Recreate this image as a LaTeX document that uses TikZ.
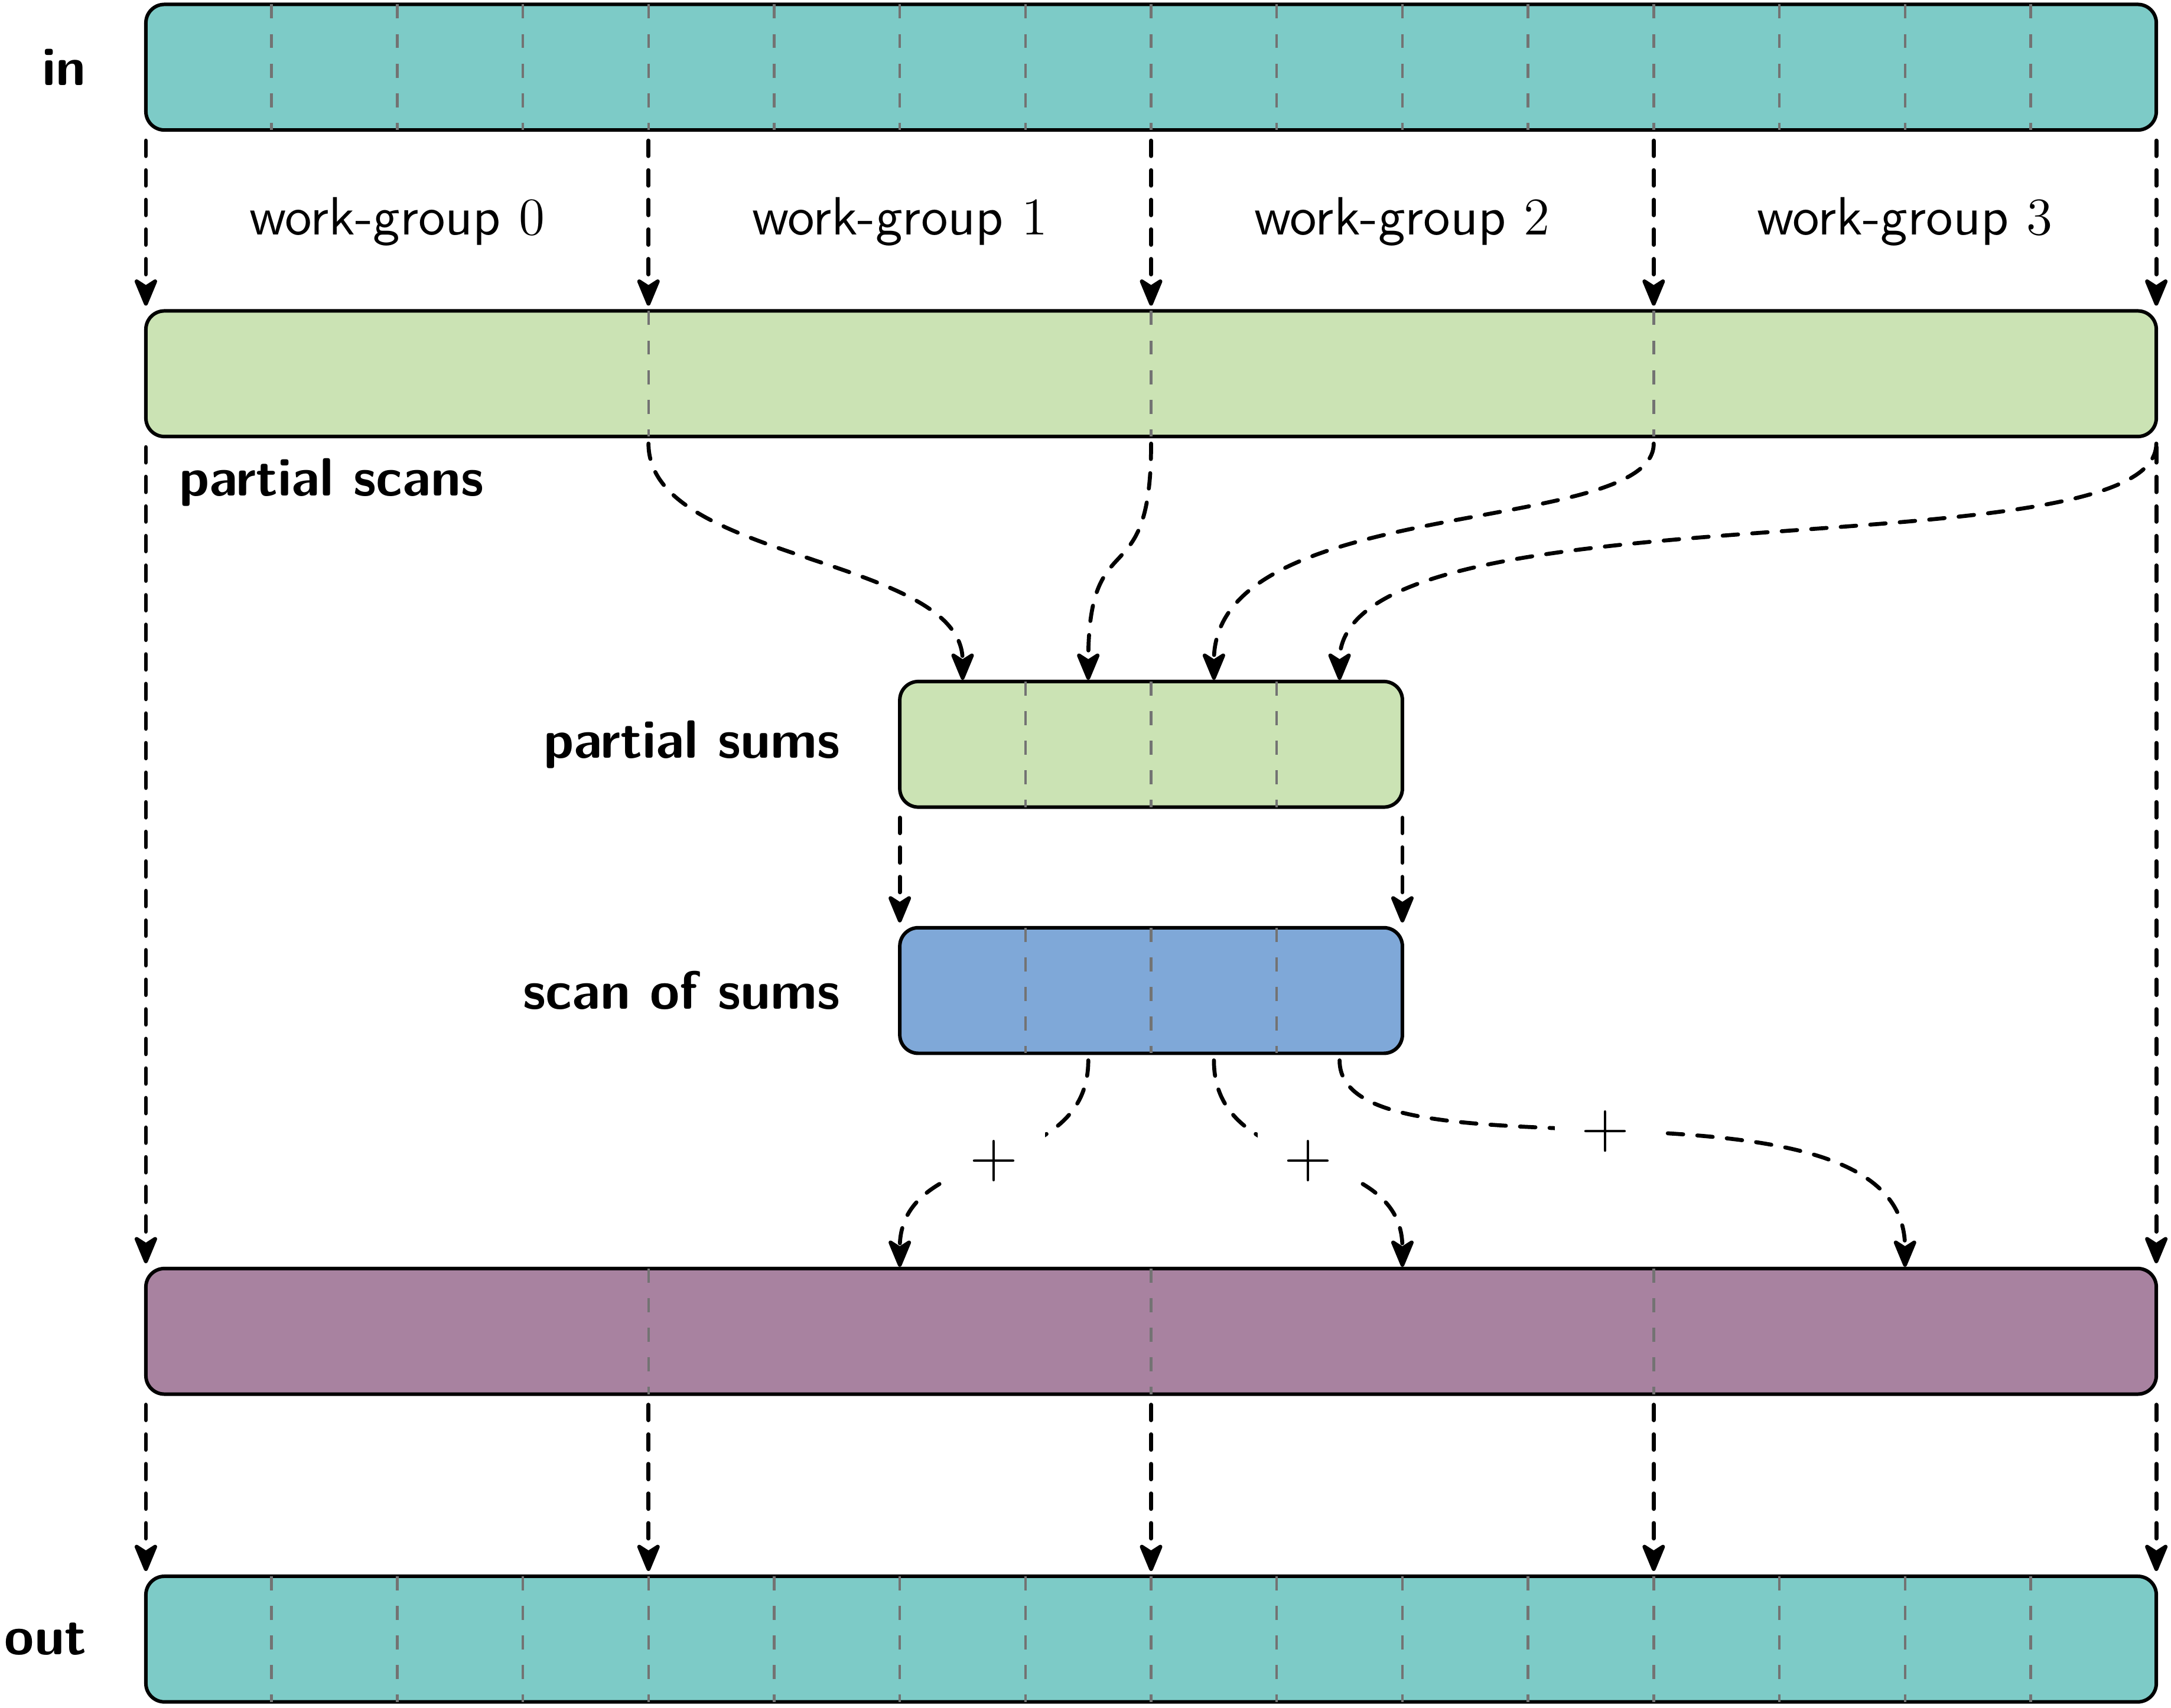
\documentclass[tikz,border=0pt]{standalone}
\usepackage{fontspec}
\setsansfont{lmsans10-regular.otf}[BoldFont=lmsans10-bold.otf]
\usepackage{tikz}
\usetikzlibrary{positioning, arrows.meta}
\definecolor{incolor}{RGB}{125,203,199}
\definecolor{scancolor}{RGB}{203,227,180}
\definecolor{sumcolor}{RGB}{127,168,216}
\definecolor{addcolor}{RGB}{168,130,160}
\tikzset{
	every node/.style={
		font=\sffamily\fontsize{12.2}{14}\selectfont
	},
	array/.style={
		rectangle,
		draw,
		thick,
		rounded corners=4.2pt,
		minimum height=1cm,
		inner sep=0,
		outer sep=0
	},
	arrname/.style={
		font=\sffamily\bfseries\fontsize{12.2}{14}\selectfont
	},
	cellsep/.style={
		black!55,
		semithick,
		dash pattern=on 3.2pt off 3.5pt
	},
	flow/.style={
		line width=0.9pt,
		line cap=round,
		dash pattern=on 3.5pt off 3.2pt,
		-{Stealth[round, length=7.3pt, width=6pt, inset=1.9pt]},
		shorten <=2.4pt,
		shorten >=1.2pt
	},
	curveflow/.style={
		flow,
		shorten <=1.6pt,
		shorten >=0.4pt
	},
	plus/.style={
		fill=white,
		inner sep=6pt,
		font=\fontsize{14}{17}\selectfont
	},
}

\begin{document}
\begin{tikzpicture}
	\useasboundingbox (-1.161,0.035) rectangle (16.117,-13.56);

	\node (in) [array, fill=incolor, minimum width=16cm] at (8,-0.5) {};
	\node (scans) [array, fill=scancolor, minimum width=16cm] at (8,-2.94) {};
	\node (sums) [array, fill=scancolor, minimum width=4cm] at (8,-5.89) {};
	\node (sumscan) [array, fill=sumcolor, minimum width=4cm] at (8,-7.85) {};
	\node (added) [array, fill=addcolor, minimum width=16cm] at (8,-10.563) {};
	\node (out) [array, fill=incolor, minimum width=16cm] at (8,-13.013) {};

	\foreach \x in {1,...,15} {
		\draw[cellsep] ([xshift=\x cm]in.north west) -- ([xshift=\x cm]in.south west);
		\draw[cellsep] ([xshift=\x cm]out.north west) -- ([xshift=\x cm]out.south west);
	}
	\foreach \x in {4,8,12} {
		\draw[cellsep] ([xshift=\x cm]scans.north west) -- ([xshift=\x cm]scans.south west);
		\draw[cellsep] ([xshift=\x cm]added.north west) -- ([xshift=\x cm]added.south west);
	}
	\foreach \x in {1,2,3} {
		\draw[cellsep] ([xshift=\x cm]sums.north west) -- ([xshift=\x cm]sums.south west);
		\draw[cellsep] ([xshift=\x cm]sumscan.north west) -- ([xshift=\x cm]sumscan.south west);
	}

	\node (inname) [arrname, left=0.35cm of in] {in};
	\node (outname) [arrname, left=0.35cm of out] {out};
	\node (sumsname) [arrname, left=0.35cm of sums] {partial sums};
	\node (sumscanname) [arrname, left=0.35cm of sumscan] {scan of sums};
	\node (scansname) [arrname, below right=0.05cm and 0.14cm of scans.south west] {partial scans};

	\foreach \i in {0,...,3}
		\node (group\i) at ({4*\i+2},-1.73) {work-group $\i$};

	\foreach \x in {0,4,8,12,16} {
		\draw[flow] ([xshift=\x cm]in.south west) to ([xshift=\x cm]scans.north west);
		\draw[flow] ([xshift=\x cm]added.south west) to ([xshift=\x cm]out.north west);
	}
	\draw[flow] (scans.south west) to (added.north west);
	\draw[flow] (scans.south east) to (added.north east);
	\draw[flow] (sums.south west) to (sumscan.north west);
	\draw[flow] (sums.south east) to (sumscan.north east);

	\draw[curveflow] ([xshift=4cm]scans.south west) to[out=-90, in=90, distance=1cm] ([xshift=0.5cm]sums.north west);
	\draw[curveflow] ([xshift=8cm]scans.south west) to[out=-90, in=90, distance=1.3cm] ([xshift=1.5cm]sums.north west);
	\draw[curveflow] ([xshift=12cm]scans.south west) to[out=-90, in=90, out distance=0.8cm, in distance=1.5cm] ([xshift=2.5cm]sums.north west);
	\draw[curveflow] (scans.south east) to[out=-90, in=90, out distance=1.1cm, in distance=1.6cm] ([xshift=3.5cm]sums.north west);

	\draw[curveflow] ([xshift=1.5cm]sumscan.south west) to[out=-90, in=90, distance=1cm] node[plus] {$+$} ([xshift=6cm]added.north west);
	\draw[curveflow] ([xshift=2.5cm]sumscan.south west) to[out=-90, in=90, distance=1cm] node[plus] {$+$} ([xshift=10cm]added.north west);
	\draw[curveflow] ([xshift=3.5cm]sumscan.south west) to[out=-90, in=90, out distance=1.1cm, in distance=1.7cm] node[plus, pos=0.48] {$+$} ([xshift=14cm]added.north west);
\end{tikzpicture}
\end{document}
